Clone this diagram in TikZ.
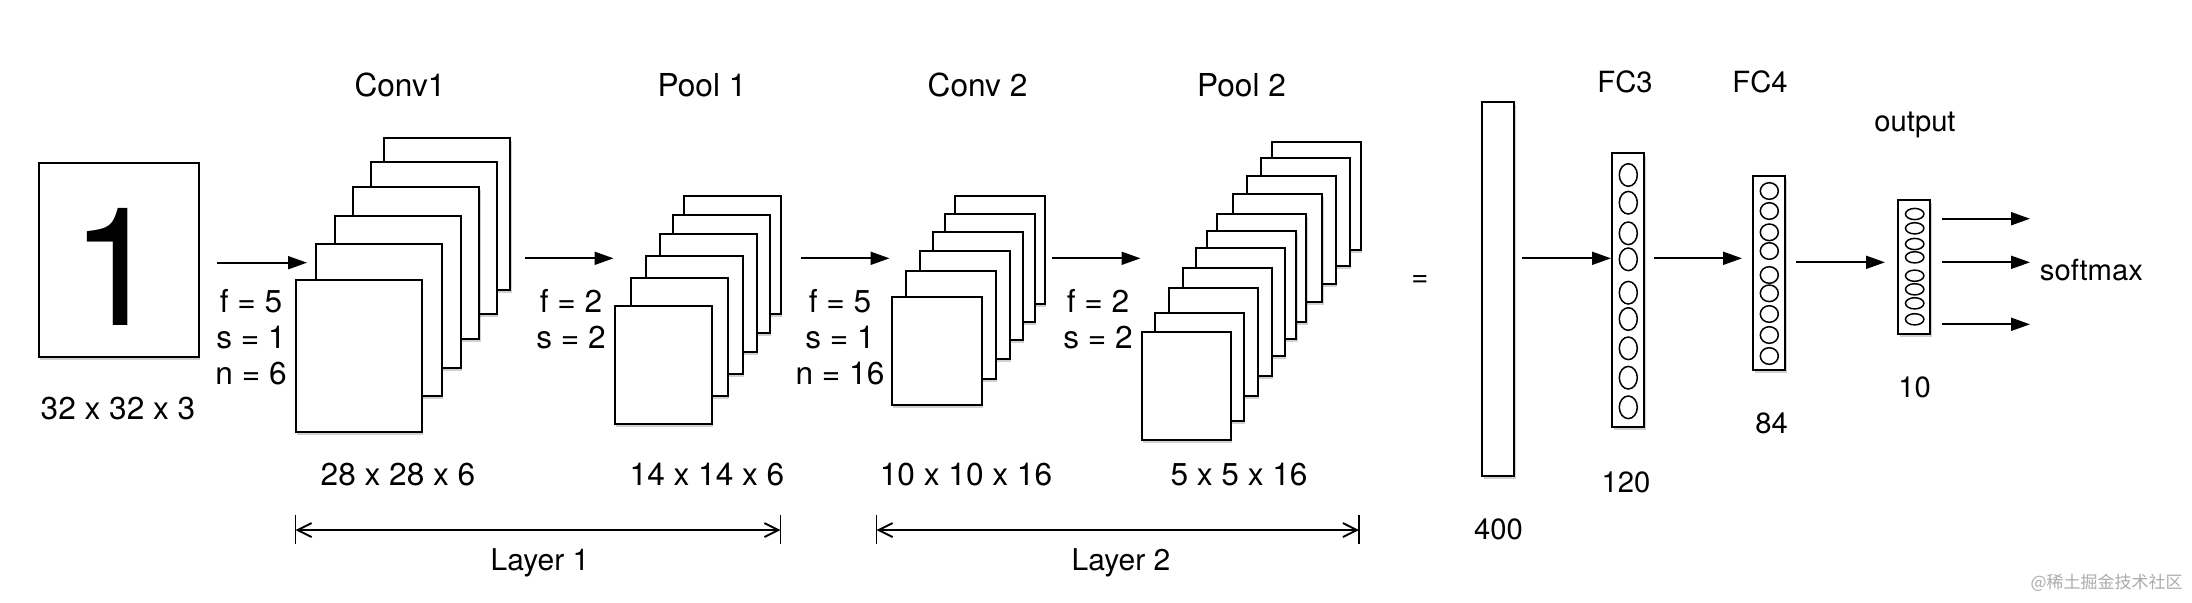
\documentclass[tikz,border=0pt]{standalone}
\usepackage{fontspec}
\setmainfont{TeX Gyre Heros}
\newfontfamily\cjkfont{Noto Sans CJK SC}
\usetikzlibrary{arrows.meta,shadows}
\begin{document}
\begin{tikzpicture}[x=0.5pt,y=-0.5pt,
  shad/.style={drop shadow={shadow xshift=0.6pt,shadow yshift=-1.4pt,opacity=0.18,fill=black}},
  fmap/.style={draw=black,line width=1pt,fill=white,anchor=north west,inner sep=0pt,outer sep=0pt,shad},
  c1/.style={fmap,minimum width=63pt,minimum height=76pt},
  p1/.style={fmap,minimum width=48.5pt,minimum height=59pt},
  c2/.style={fmap,minimum width=45pt,minimum height=54pt},
  p2/.style={fmap,minimum width=44.5pt,minimum height=54pt},
  vec/.style={fmap,minimum width=16pt},
  neuron/.style={line width=0.75pt},
  lbl/.style={font=\fontsize{15.8}{19}\selectfont,inner sep=0pt,anchor=base},
  slbl/.style={font=\fontsize{14.6}{18}\selectfont,inner sep=0pt,anchor=base},
  arr/.style={line width=0.95pt,-{Triangle[length=9.5pt,width=6.5pt]}},
  dimline/.style={line width=0.95pt,{Straight Barb[length=7pt,width=7pt,line width=0.95pt]}-{Straight Barb[length=7pt,width=7pt,line width=0.95pt]}},
  tick/.style={line width=0.7pt}]
\useasboundingbox (0,0) rectangle (2192,602);

% input
\node[fmap,minimum width=80pt,minimum height=97pt] (inp) at (39,163.3) {};
\node[font=\fontsize{82.6}{90}\selectfont,inner sep=0pt,anchor=base] (digit) at (116,325) {1};
\node[lbl] (inplbl) at (118,419.3) {32 x 32 x 3};

% Conv1 stack
\node[c1] (c1f) at (384.3,138.3) {};
\node[c1] (c1e) at (370.7,162.3) {};
\node[c1] (c1d) at (353.3,187.3) {};
\node[c1] (c1c) at (335,215.7) {};
\node[c1] (c1b) at (315.7,244) {};
\node[c1] (c1a) at (295.7,280) {};
\node[lbl] (c1t) at (400,96.7) {Conv1};
\node[lbl] (c1dim) at (398,485) {28 x 28 x 6};
\node[lbl,align=center,anchor=north] (c1p) at (251,288.5) {f = 5\\[-0.9pt]s = 1\\[-0.9pt]n = 6};

% Pool1 stack
\node[p1] (p1f) at (683.7,196) {};
\node[p1] (p1e) at (673,214.7) {};
\node[p1] (p1d) at (659.7,234.3) {};
\node[p1] (p1c) at (645.7,255.7) {};
\node[p1] (p1b) at (631,278.3) {};
\node[p1] (p1a) at (615,305.7) {};
\node[lbl] (p1t) at (702,96.7) {Pool 1};
\node[lbl] (p1dim) at (707,485) {14 x 14 x 6};
\node[lbl,align=center,anchor=north] (p1p) at (571,288.5) {f = 2\\[-0.9pt]s = 2};

% Conv2 stack
\node[c2] (c2f) at (955,196.3) {};
\node[c2] (c2e) at (945,213.7) {};
\node[c2] (c2d) at (933.2,231.7) {};
\node[c2] (c2c) at (920.2,251.3) {};
\node[c2] (c2b) at (906.2,271) {};
\node[c2] (c2a) at (891.7,296.7) {};
\node[lbl] (c2t) at (977.5,96.7) {Conv 2};
\node[lbl] (c2dim) at (966,485) {10 x 10 x 16};
\node[lbl,align=center,anchor=north] (c2p) at (840,288.5) {f = 5\\[-0.9pt]s = 1\\[-0.9pt]n = 16};

% Pool2 stack
\node[p2] (p2k) at (1271.7,141.7) {};
\node[p2] (p2j) at (1260.7,158.3) {};
\node[p2] (p2i) at (1246.7,175.7) {};
\node[p2] (p2h) at (1233.3,194) {};
\node[p2] (p2g) at (1217.3,214) {};
\node[p2] (p2f) at (1207.3,231) {};
\node[p2] (p2e) at (1195.7,248.3) {};
\node[p2] (p2d) at (1182.7,268.3) {};
\node[p2] (p2c) at (1169,288.3) {};
\node[p2] (p2b) at (1155,313.3) {};
\node[p2] (p2a) at (1141.7,331.7) {};
\node[lbl] (p2t) at (1241.5,96.7) {Pool 2};
\node[lbl] (p2dim) at (1239,485) {5 x 5 x 16};
\node[lbl,align=center,anchor=north] (p2p) at (1098,288.5) {f = 2\\[-0.9pt]s = 2};

% arrows between stages
\coordinate (a1s) at (217,262.7);  \coordinate (a1e) at (307,262.7);
\coordinate (a2s) at (525,258.3);  \coordinate (a2e) at (613.5,258.3);
\coordinate (a3s) at (801,258.3);  \coordinate (a3e) at (889.5,258.3);
\coordinate (a4s) at (1052,258.3); \coordinate (a4e) at (1140.5,258.3);
\draw[arr] (a1s) -- (a1e);
\draw[arr] (a2s) -- (a2e);
\draw[arr] (a3s) -- (a3e);
\draw[arr] (a4s) -- (a4e);

% layer brackets
\coordinate (l1a) at (295.5,530); \coordinate (l1b) at (780.5,530);
\coordinate (l2a) at (876.5,530); \coordinate (l2b) at (1359,530);
\draw[tick] (295.5,515) -- (295.5,544);
\draw[tick] (780.5,515) -- (780.5,544);
\draw[tick] (876.5,515) -- (876.5,544);
\draw[tick] (1359,515) -- (1359,544);
\draw[dimline] (l1a) -- (l1b);
\draw[dimline] (l2a) -- (l2b);
\node[lbl,font=\fontsize{15}{18}\selectfont] (lay1) at (540,570) {Layer 1};
\node[lbl,font=\fontsize{15}{18}\selectfont] (lay2) at (1121,570) {Layer 2};

% equals
\node[slbl,anchor=center] (eq) at (1420,280.7) {=};

% flattened 400
\node[vec,minimum height=187pt] (v400) at (1482.3,102.3) {};
\node[slbl] (v400l) at (1498.5,539) {400};

% FC3
\node[vec,minimum height=137pt] (fc3) at (1612.3,152.7) {};
\foreach \y in {175,202.7,233.3,259.3,292.7,319,348.3,377.7,407.3}
  \draw[neuron] (1628.3,\y) ellipse [x radius=9, y radius=11.3];
\node[slbl] (fc3t) at (1625,92.7) {FC3};
\node[slbl] (fc3l) at (1626,492.3) {120};

% FC4
\node[vec,minimum height=97pt] (fc4) at (1753.3,176) {};
\foreach \y in {191,211,232.3,251,275,293.3,314,335,356}
  \draw[neuron] (1769.3,\y) ellipse [x radius=9, y radius=8.3];
\node[slbl] (fc4t) at (1760,92.7) {FC4};
\node[slbl] (fc4l) at (1771.7,433.3) {84};

% output
\node[vec,minimum height=67pt] (outv) at (1898.3,200) {};
\foreach \y in {214,228.3,244,257.3,275.7,289.3,303.3,319.3}
  \draw[neuron] (1914.7,\y) ellipse [x radius=9.2, y radius=5.6];
\node[slbl] (outt) at (1915,131.7) {output};
\node[slbl] (outl) at (1914.7,397.3) {10};

% FC arrows
\coordinate (b1s) at (1522,258.3); \coordinate (b1e) at (1611,258.3);
\coordinate (b2s) at (1653.5,258.3); \coordinate (b2e) at (1742,258.3);
\coordinate (b3s) at (1796,262.3); \coordinate (b3e) at (1885,262.3);
\draw[arr] (b1s) -- (b1e);
\draw[arr] (b2s) -- (b2e);
\draw[arr] (b3s) -- (b3e);

% softmax arrows
\coordinate (s1s) at (1941.5,218.7); \coordinate (s1e) at (2030,218.7);
\coordinate (s2s) at (1941.5,262.3); \coordinate (s2e) at (2030,262.3);
\coordinate (s3s) at (1941.5,324.3); \coordinate (s3e) at (2030,324.3);
\draw[arr] (s1s) -- (s1e);
\draw[arr] (s2s) -- (s2e);
\draw[arr] (s3s) -- (s3e);
\node[slbl,anchor=base west] (smax) at (2039.5,280) {softmax};

% watermark
\node[font=\cjkfont\fontsize{8.5}{10}\selectfont,text=black!33,inner sep=0pt,anchor=east] (wm) at (2183,583) {@稀土掘金技术社区};
\end{tikzpicture}
\end{document}
